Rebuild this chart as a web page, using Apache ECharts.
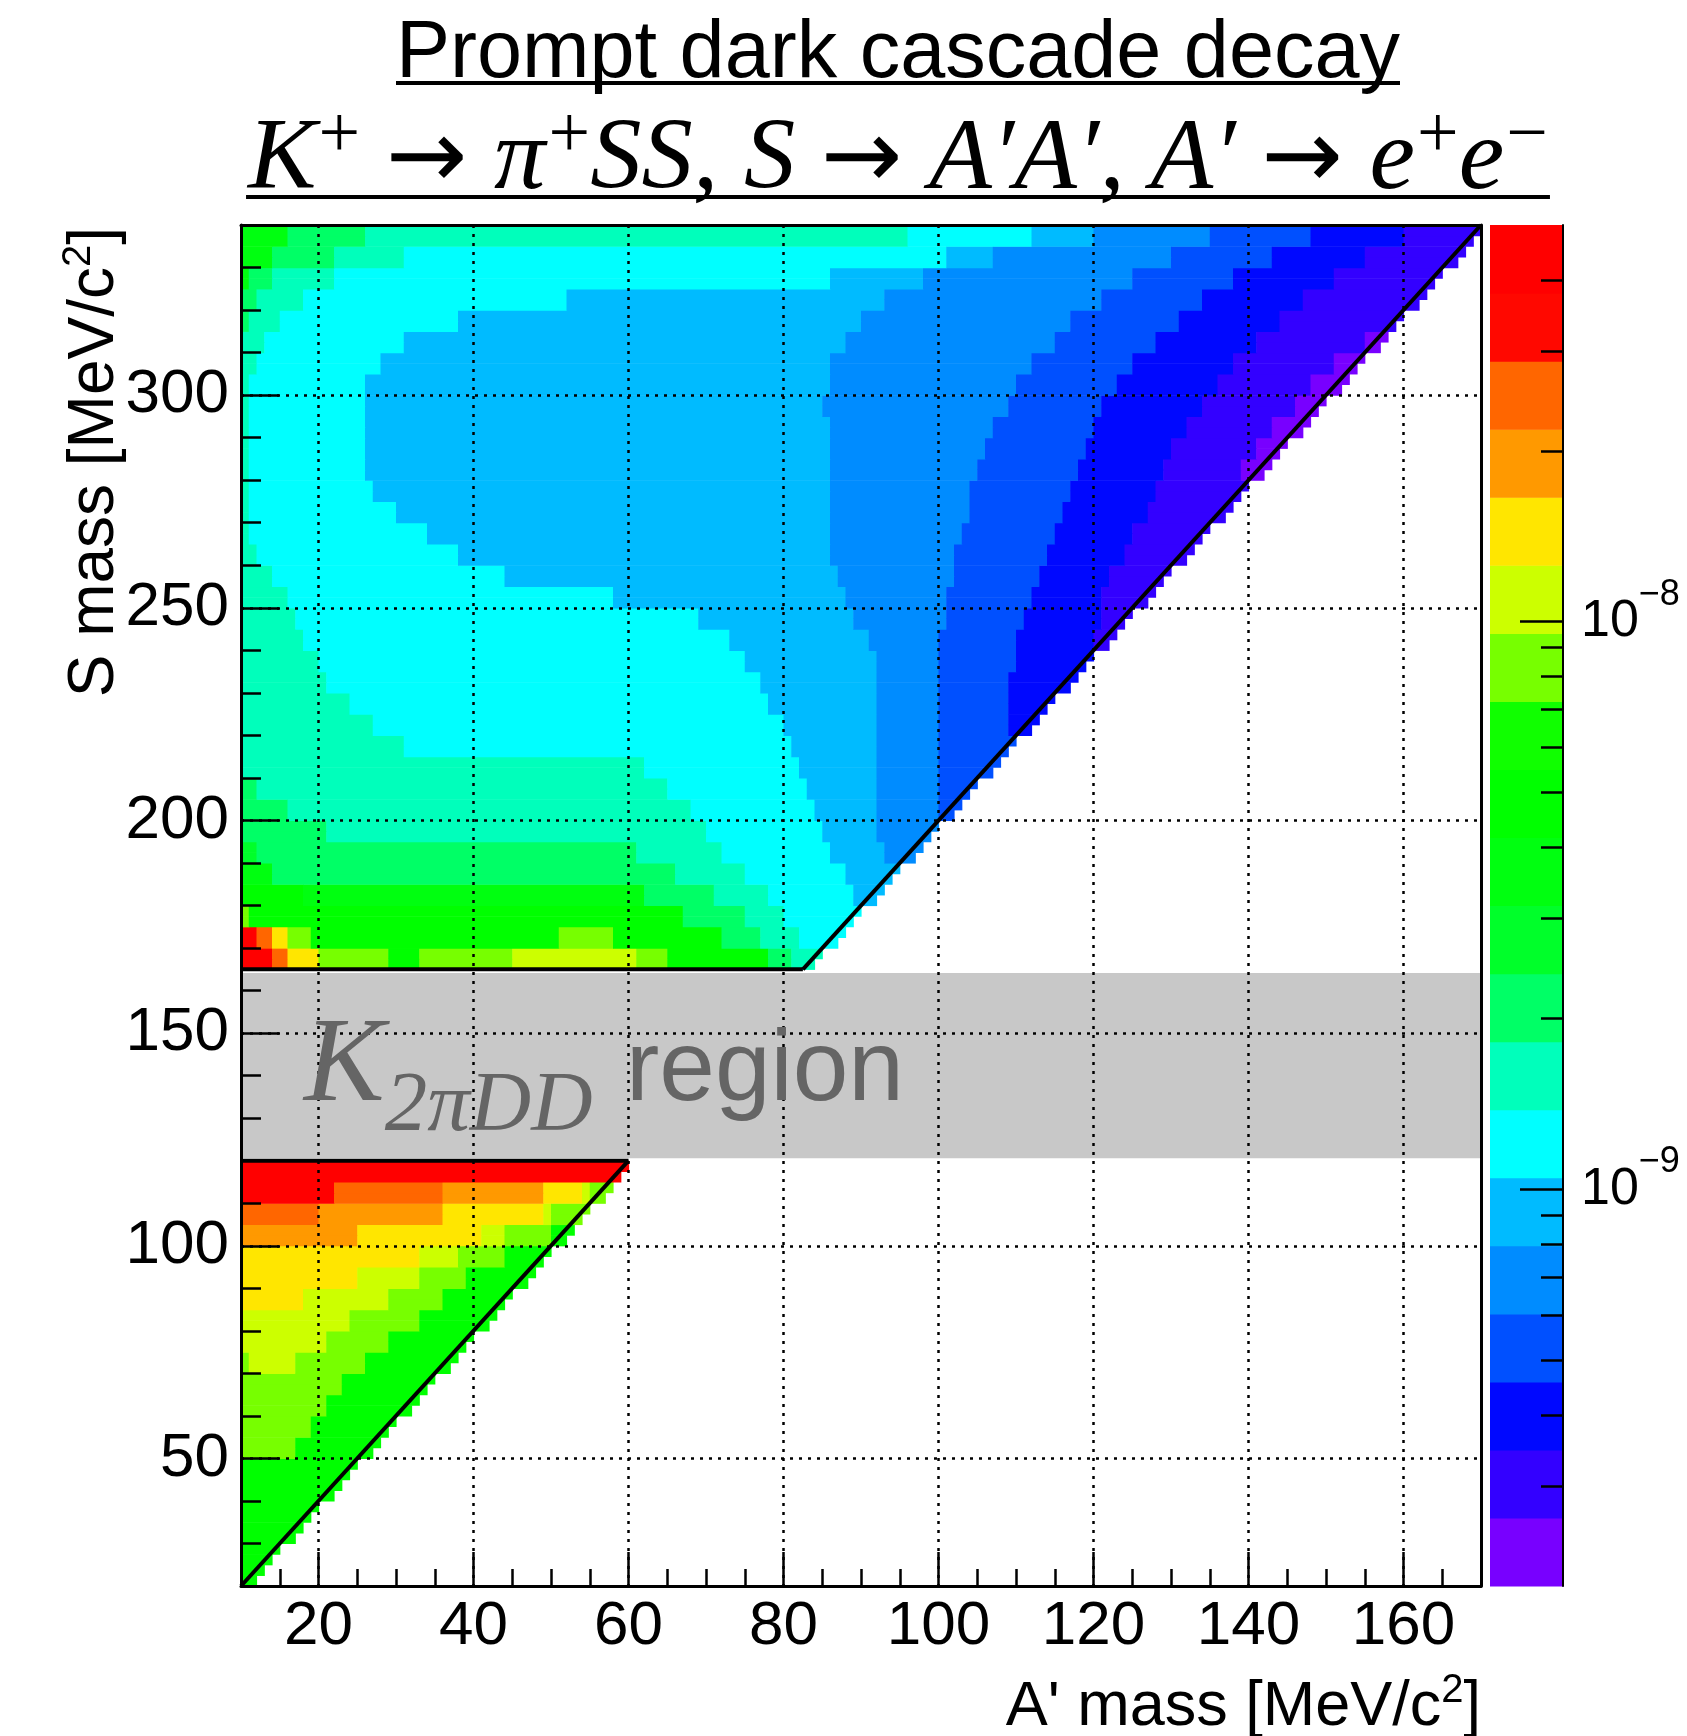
<!DOCTYPE html>
<html>
<head>
<meta charset="utf-8">
<script src="https://cdn.jsdelivr.net/npm/echarts@6.0.0/dist/echarts.min.js"></script>
<style>
html,body{margin:0;padding:0;background:#ffffff;}
#chart{width:1687px;height:1736px;}
</style>
</head>
<body>
<div id="chart"></div>
<script>
// ================= DATA =================
const xRange = [10, 170];                 // A' mass [MeV/c^2]
const yRange = [20, 340];                 // S mass [MeV/c^2]
const xTickValues = [20, 40, 60, 80, 100, 120, 140, 160];
const yTickValues = [50, 100, 150, 200, 250, 300];
const zRange = [2e-10, 5e-8];             // colour axis, log scale
const nLevels = 20;
const zLabelValues = [1e-9, 1e-8];
const zMinorTickValues = [3e-10,4e-10,5e-10,6e-10,7e-10,8e-10,9e-10,
                          2e-9,3e-9,4e-9,5e-9,6e-9,7e-9,8e-9,9e-9,
                          2e-8,3e-8,4e-8];
const upperRegionY = [165, 340];
const lowerRegionY = [20, 120];
const k2piddBandY = [120.6, 164.1];
const rowHeight = 5;
// contour level (0 = lowest ... 19 = highest) read per 5 MeV row of S mass:
// [rowStartY, [[level, xEnd], ...]]  (xEnd 999 = up to the kinematic edge)
const upperRows = [
 [165, [[19,14.5],[17,16.5],[15,20],[13,29],[11,33],[13,45],[14,61.5],[13,65.5],[11,78],[8,81],[7,999]]],
 [170, [[19,12.5],[17,14],[15,16],[13,19],[11,51],[13,58],[11,72],[8,77.5],[7,82],[6,999]]],
 [175, [[13,11.5],[11,67.5],[8,75],[7,80.5],[6,999]]],
 [180, [[11,18],[10,62],[8,71],[7,78.5],[6,89.5],[5,999]]],
 [185, [[10,14],[8,66],[7,75.5],[6,88],[5,999]]],
 [190, [[9,12],[8,61],[7,72.5],[6,86.5],[5,93.5],[4,999]]],
 [195, [[8,21],[7,70],[6,85],[5,92.5],[4,999]]],
 [200, [[8,16],[7,68],[6,84],[5,92],[4,100],[3,999]]],
 [205, [[8,12],[7,65.5],[6,83],[5,92.5],[4,100],[3,999]]],
 [210, [[7,62],[6,82],[5,92.5],[4,100],[3,999]]],
 [215, [[7,31],[6,81],[5,92.5],[4,100],[3,999]]],
 [220, [[7,27],[6,80],[5,92.5],[4,100],[3,109],[2,999]]],
 [225, [[7,24],[6,78.5],[5,92.5],[4,100],[3,109],[2,999]]],
 [230, [[7,21.5],[6,77],[5,92.5],[4,100],[3,109.5],[2,999]]],
 [235, [[7,19.7],[6,75.5],[5,92],[4,100],[3,110],[2,999]]],
 [240, [[7,18.5],[6,73],[5,91],[4,100.5],[3,110.5],[2,120],[1,999]]],
 [245, [[7,17.5],[6,69],[5,89],[4,101],[3,111],[2,121],[1,999]]],
 [250, [[7,16.5],[6,58],[5,88],[4,101.5],[3,112],[2,121.5],[1,999]]],
 [255, [[7,14],[6,44],[5,87],[4,102],[3,113],[2,122.5],[1,999]]],
 [260, [[7,12.5],[6,38],[5,86.5],[4,102.5],[3,114],[2,124],[1,999]]],
 [265, [[7,11.5],[6,34],[5,86],[4,103],[3,115],[2,125.5],[1,999]]],
 [270, [[7,11],[6,30],[5,86],[4,104],[3,116],[2,127],[1,999]]],
 [275, [[7,11],[6,27.5],[5,86],[4,104.5],[3,117],[2,128.5],[1,999]]],
 [280, [[7,11],[6,26],[5,86],[4,105.5],[3,118],[2,129.5],[1,139],[0,999]]],
 [285, [[7,11],[6,26],[5,86],[4,106.5],[3,119],[2,130.5],[1,141],[0,999]]],
 [290, [[7,11],[6,26],[5,86],[4,107.5],[3,120],[2,132],[1,143.5],[0,999]]],
 [295, [[7,11],[6,26],[5,85.5],[4,109],[3,121.5],[2,134],[1,146],[0,999]]],
 [300, [[7,11.5],[6,26],[5,86],[4,110.5],[3,123],[2,136],[1,148.5],[0,999]]],
 [305, [[7,12],[6,28],[5,86.5],[4,112],[3,125],[2,138],[1,151.5],[0,999]]],
 [310, [[7,13],[6,31],[5,88],[4,115],[3,128],[2,141],[1,155],[0,999]]],
 [315, [[8,11],[7,15],[6,38],[5,90],[4,117.5],[3,131],[2,144],[1,999]]],
 [320, [[8,12],[7,18],[6,52],[5,93],[4,121],[3,134.5],[2,147.5],[1,999]]],
 [325, [[10,11],[8,14],[7,22],[6,86],[5,98],[4,125],[3,138.5],[2,151],[1,999]]],
 [330, [[10,14.5],[8,22],[7,31],[6,101],[5,107],[4,130],[3,143],[2,155],[1,999]]],
 [335, [[10,16.5],[8,25.8],[7,95.7],[6,112],[5,120],[4,135],[3,148],[2,160],[1,999]]]
];
const lowerRows = [
 [20, [[11,999]]], [25, [[11,999]]], [30, [[11,999]]], [35, [[11,999]]],
 [40, [[11,999]]], [45, [[11,999]]],
 [50, [[13,17.5],[11,999]]],
 [55, [[13,19],[11,999]]],
 [60, [[13,21],[11,999]]],
 [65, [[13,23.3],[11,999]]],
 [70, [[13,11],[14,17],[13,26],[11,999]]],
 [75, [[14,21],[13,29.4],[11,999]]],
 [80, [[14,24.5],[13,32.7],[11,999]]],
 [85, [[15,18],[14,29],[13,36.5],[11,999]]],
 [90, [[15,25],[14,33],[13,39.5],[11,999]]],
 [95, [[15,33],[14,38],[13,44.5],[11,999]]],
 [100, [[16,25],[15,41],[14,44],[13,50],[11,999]]],
 [105, [[17,20.5],[16,36.5],[15,49.5],[14,50.5],[13,999]]],
 [110, [[19,22.5],[17,36],[16,49.5],[15,54],[14,55],[13,999]]],
 [115, [[19,999]]]
];
// kinematic / region edges drawn as black lines
const edgeLines = [
 [[10,120],[60,120]],
 [[10,20],[60,120]],
 [[10,165],[82.5,165]],
 [[82.5,165],[170,340]]
];

// ================= STYLE =================
const levelColors = ['#7800ff','#3300ff','#0008ff','#0050ff','#008cff','#00bbff','#00ffff','#00ffbb',
  '#00ff66','#00ff2a','#00ff10','#00ff00','#10ff00','#77ff00','#ccff00','#ffe600','#ff9900','#ff6600','#ff0800','#ff0000'];
const SANS = "'Liberation Sans', Arial, sans-serif";
const SERIF = "'Liberation Serif', 'Times New Roman', serif";
const ARROWF = "'DejaVu Sans', sans-serif";

// ================= BUILD CELLS =================
function buildCells(rows, yr, dy) {
  const out = [];
  for (let y0 = yr[0]; y0 < yr[1] - 1e-9; y0 += dy) {
    const y1 = Math.min(y0 + dy, yr[1]);
    const yc = (y0 + y1) / 2;
    const row = rows.find(r => yc >= r[0] && yc < r[0] + rowHeight);
    if (!row) continue;
    const runs = row[1];
    let cur = null;
    for (let x0 = xRange[0]; x0 < xRange[1] && 2 * x0 < y1; x0 += 1) {
      const xc = x0 + 0.5;
      let k = runs[runs.length - 1][0];
      for (const r of runs) { if (xc < r[1]) { k = r[0]; break; } }
      if (cur && cur[4] === k) cur[1] = x0 + 1;
      else { cur = [x0, x0 + 1, y0, y1, k]; out.push(cur); }
    }
  }
  return out;
}
const cells = buildCells(upperRows, upperRegionY, 2.5).concat(buildCells(lowerRows, lowerRegionY, 2.5));

const logLo = Math.log10(zRange[0]), logHi = Math.log10(zRange[1]);
const lstep = (logHi - logLo) / nLevels;
const colorbarData = [];
for (let k = 0; k < nLevels; k++) colorbarData.push([0, 1, logLo + k * lstep, logLo + (k + 1) * lstep, k]);

function rectItem(params, api) {
  const a = api.coord([api.value(0), api.value(3)]);
  const b = api.coord([api.value(1), api.value(2)]);
  return { type: 'rect', shape: { x: a[0], y: a[1], width: b[0] - a[0] + 0.6, height: b[1] - a[1] + 0.6 },
           style: { fill: api.visual('color') } };
}

// ================= TEXT HELPERS =================
const cv = document.createElement('canvas').getContext('2d');
function fontStr(t) { return (t.italic ? 'italic ' : '') + t.size + 'px ' + t.family; }
function tw(t) { cv.font = fontStr(t); return cv.measureText(t.t).width; }
function midOff(t) {
  cv.font = fontStr(t);
  cv.textBaseline = 'alphabetic'; const a = cv.measureText('H').actualBoundingBoxAscent;
  cv.textBaseline = 'middle'; const b = cv.measureText('H').actualBoundingBoxAscent;
  cv.textBaseline = 'alphabetic';
  return a - b;
}
function totalW(tokens) { return tokens.reduce((s, t) => s + tw(t) + (t.gap || 0), 0); }
function layout(tokens, x0, baseY, color, z) {
  let x = x0; const els = [];
  for (const t of tokens) {
    els.push({ type: 'text', x: x, y: baseY + (t.dy || 0) - midOff(t), z: z || 50,
      style: { text: t.t, font: fontStr(t), fill: t.color || color, align: 'left', verticalAlign: 'middle',
               textAlign: 'left', textVerticalAlign: 'middle' } });
    x += tw(t) + (t.gap || 0);
  }
  return els;
}
function fitSize(makeTokens, base, target) {
  const w = totalW(makeTokens(base));
  return base * target / w;
}

const graphics = [];
// Title line 1
const t1 = s => [{ t: 'Prompt dark cascade decay', size: s, family: SANS }];
const s1 = fitSize(t1, 80, 1004);
const w1 = totalW(t1(s1));
graphics.push(...layout(t1(s1), 898 - w1 / 2, 77, '#000'));
graphics.push({ type: 'rect', shape: { x: 898 - w1 / 2, y: 81, width: w1, height: 4 }, style: { fill: '#000' }, z: 50 });
// Title line 2
const sup = (txt, S) => ({ t: txt, size: 0.72 * S, family: SERIF, dy: -0.3 * S });
const arrow = S => ({ t: '\u2192', size: 0.95 * S, family: ARROWF, gap: 0.26 * S, pre: true });
const t2 = S => [
  { t: 'K', size: S, family: SERIF, italic: true, gap: 0.02 * S },
  sup('+', S),
  { t: ' ', size: S, family: SERIF },
  arrow(S),
  { t: '\u03c0', size: S, family: SERIF, italic: true, gap: 0.03 * S },
  sup('+', S),
  { t: 'SS, S ', size: S, family: SERIF, italic: true },
  arrow(S),
  { t: 'A\u2032A\u2032, A\u2032 ', size: S, family: SERIF, italic: true },
  arrow(S),
  { t: 'e', size: S, family: SERIF, italic: true, gap: 0.02 * S },
  sup('+', S),
  { t: 'e', size: S, family: SERIF, italic: true, gap: 0.02 * S },
  sup('\u2212', S)
];
const s2 = fitSize(t2, 100, 1300);
const w2 = totalW(t2(s2));
graphics.push(...layout(t2(s2), 898 - w2 / 2, 188, '#000'));
graphics.push({ type: 'rect', shape: { x: 898 - w2 / 2 - 2, y: 195, width: w2 + 4, height: 4 }, style: { fill: '#000' }, z: 50 });
// x-axis title (right aligned to plot edge)
const xt = [{ t: "A' mass [MeV/c", size: 63, family: SANS }, { t: '2', size: 40, family: SANS, dy: -23 }, { t: ']', size: 63, family: SANS }];
const xtw = totalW(xt);
graphics.push(...layout(xt, 1481 - xtw, 1725, '#000'));
// y-axis title (rotated, top aligned to plot top)
const yt = [{ t: 'S mass [MeV/c', size: 64, family: SANS }, { t: '2', size: 40, family: SANS, dy: -23 }, { t: ']', size: 64, family: SANS }];
const ytw = totalW(yt);
graphics.push({ type: 'group', x: 113, y: 227, rotation: Math.PI / 2, z: 50, children: layout(yt, -ytw, 0, '#000') });
// K2piDD region label
const kt = [{ t: 'K', size: 121, family: SERIF, italic: true }, { t: '2\u03c0DD', size: 85, family: SERIF, italic: true, dy: 30 }];
graphics.push(...layout(kt, 304, 1100, '#656565', 60));
graphics.push(...layout([{ t: 'region', size: 100, family: SANS }], 626, 1100, '#656565', 60));

// ================= CHART =================
const chart = echarts.init(document.getElementById('chart'), null, { renderer: 'canvas', width: 1687, height: 1736 });
const axLine = { show: true, onZero: false, lineStyle: { color: '#000', width: 3 } };
const gridDots = { show: true, lineStyle: { color: '#000', width: 2.5, type: [3, 6] } };
const noLab = { show: false };
const option = {
  animation: false,
  backgroundColor: '#ffffff',
  textStyle: { fontFamily: SANS },
  grid: [
    { left: 241, top: 225, width: 1240, height: 1361, outerBoundsMode: 'none' },
    { left: 1490, top: 225, width: 73, height: 1361, outerBoundsMode: 'none' }
  ],
  xAxis: [
    { gridIndex: 0, type: 'value', min: xRange[0], max: xRange[1], interval: 10, position: 'bottom', z: 3,
      axisLine: axLine,
      axisTick: { show: true, inside: true, length: 34, customValues: xTickValues, lineStyle: { color: '#000', width: 2.5 } },
      axisLabel: { customValues: xTickValues, fontSize: 62, fontFamily: SANS, color: '#000', margin: 10 },
      splitLine: gridDots },
    { gridIndex: 0, type: 'value', min: xRange[0], max: xRange[1], interval: 5, position: 'bottom', z: 3,
      axisLine: { show: false, onZero: false },
      axisTick: { show: true, inside: true, length: 17, lineStyle: { color: '#000', width: 2.5 } },
      axisLabel: noLab, splitLine: { show: false } },
    { gridIndex: 0, type: 'value', min: xRange[0], max: xRange[1], position: 'top', z: 3,
      axisLine: axLine, axisTick: { show: false }, axisLabel: noLab, splitLine: { show: false } },
    { gridIndex: 1, type: 'value', min: 0, max: 1, show: false }
  ],
  yAxis: [
    { gridIndex: 0, type: 'value', min: yRange[0], max: yRange[1], interval: 10, position: 'left', z: 3,
      axisLine: axLine,
      axisTick: { show: true, inside: true, length: 38, customValues: yTickValues, lineStyle: { color: '#000', width: 2.5 } },
      axisLabel: { customValues: yTickValues, fontSize: 62, fontFamily: SANS, color: '#000', margin: 12 },
      splitLine: gridDots },
    { gridIndex: 0, type: 'value', min: yRange[0], max: yRange[1], interval: 10, position: 'left', z: 3,
      axisLine: { show: false, onZero: false },
      axisTick: { show: true, inside: true, length: 20, lineStyle: { color: '#000', width: 2.5 } },
      axisLabel: noLab, splitLine: { show: false } },
    { gridIndex: 0, type: 'value', min: yRange[0], max: yRange[1], position: 'right', z: 3,
      axisLine: axLine, axisTick: { show: false }, axisLabel: noLab, splitLine: { show: false } },
    { gridIndex: 1, type: 'value', min: logLo, max: logHi, position: 'right', z: 3,
      axisLine: { show: true, onZero: false, lineStyle: { color: '#000', width: 2 } },
      axisTick: { show: true, inside: true, length: 43, customValues: zLabelValues.map(Math.log10), lineStyle: { color: '#000', width: 2.5 } },
      axisLabel: { customValues: zLabelValues.map(Math.log10), margin: 18,
        formatter: v => { const e = Math.round(v); return '{b|10}{s|' + (e < 0 ? '\u2212' : '') + Math.abs(e) + '}'; },
        rich: { b: { fontSize: 52, fontFamily: SANS, color: '#000', lineHeight: 90, verticalAlign: 'middle' },
                s: { fontSize: 36, fontFamily: SANS, color: '#000', lineHeight: 36, verticalAlign: 'top' } } },
      splitLine: { show: false } },
    { gridIndex: 1, type: 'value', min: logLo, max: logHi, position: 'right', z: 3,
      axisLine: { show: false, onZero: false },
      axisTick: { show: true, inside: true, length: 22, customValues: zMinorTickValues.map(Math.log10), lineStyle: { color: '#000', width: 2.5 } },
      axisLabel: noLab, splitLine: { show: false } }
  ],
  visualMap: [{ type: 'piecewise', show: false, dimension: 4, seriesIndex: [0, 2],
    pieces: levelColors.map((c, k) => ({ value: k, color: c })) }],
  series: [
    { type: 'custom', name: 'cells', xAxisIndex: 0, yAxisIndex: 0, z: 2, clip: true, silent: true,
      data: cells, encode: { x: [0, 1], y: [2, 3] }, renderItem: rectItem },
    { type: 'custom', name: 'K2piDD band', xAxisIndex: 0, yAxisIndex: 0, z: 2, clip: true, silent: true,
      data: [[xRange[0], xRange[1], k2piddBandY[0], k2piddBandY[1]]], encode: { x: [0, 1], y: [2, 3] },
      renderItem: (params, api) => {
        const a = api.coord([api.value(0), api.value(3)]);
        const b = api.coord([api.value(1), api.value(2)]);
        return { type: 'rect', shape: { x: a[0], y: a[1], width: b[0] - a[0], height: b[1] - a[1] }, style: { fill: '#c8c8c8' } };
      } },
    { type: 'custom', name: 'colorbar', xAxisIndex: 3, yAxisIndex: 3, z: 2, silent: true,
      data: colorbarData, encode: { x: [0, 1], y: [2, 3] }, renderItem: rectItem }
  ].concat(edgeLines.map(seg => ({
      type: 'line', xAxisIndex: 0, yAxisIndex: 0, z: 5, silent: true, symbol: 'none', data: seg,
      lineStyle: { color: '#000', width: 4 } }))),
  graphic: { elements: graphics }
};
chart.setOption(option);
</script>
</body>
</html>
